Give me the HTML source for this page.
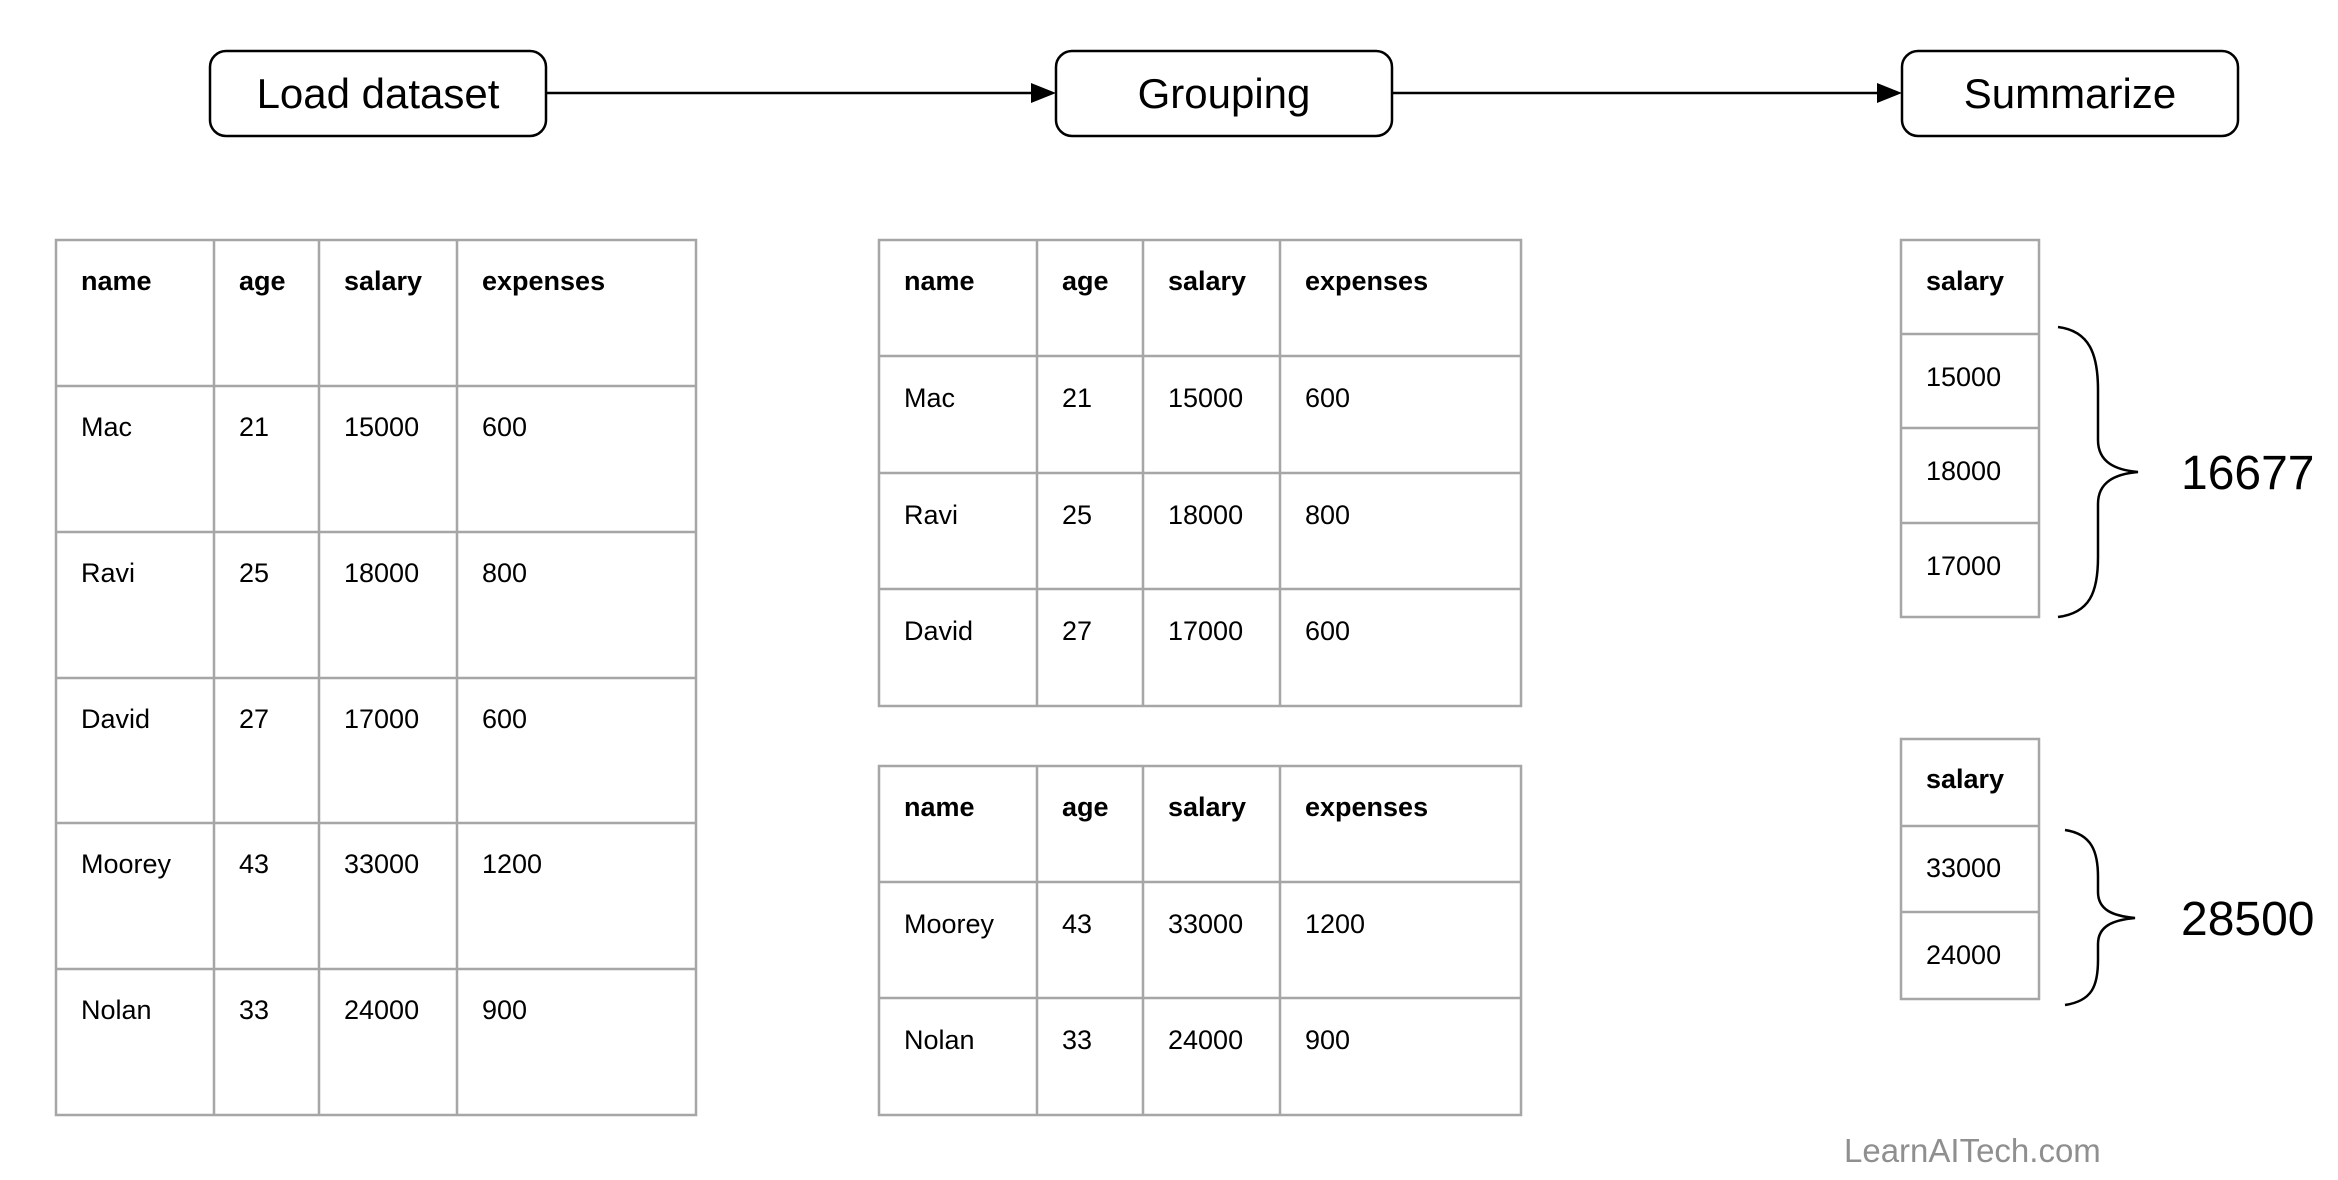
<!DOCTYPE html>
<html><head><meta charset="utf-8"><style>
html,body{margin:0;padding:0;background:#fff;}
svg{display:block;}
text{font-family:"Liberation Sans",Arial,sans-serif;fill:#000;}
.h{font-weight:bold;font-size:27px;}
.c{font-size:27px;}
.g{stroke:#a6a6a6;stroke-width:2.5;fill:none;}
</style></head><body>
<svg width="2338" height="1180" viewBox="0 0 2338 1180" xmlns="http://www.w3.org/2000/svg">
<rect x="210" y="51" width="336" height="85" rx="16" fill="#fff" stroke="#000" stroke-width="2.5"/>
<text x="378" y="108" font-size="42" text-anchor="middle">Load dataset</text>
<rect x="1056" y="51" width="336" height="85" rx="16" fill="#fff" stroke="#000" stroke-width="2.5"/>
<text x="1224" y="108" font-size="42" text-anchor="middle">Grouping</text>
<rect x="1902" y="51" width="336" height="85" rx="16" fill="#fff" stroke="#000" stroke-width="2.5"/>
<text x="2070" y="108" font-size="42" text-anchor="middle">Summarize</text>
<line x1="546" y1="93" x2="1042" y2="93" stroke="#000" stroke-width="2.5"/>
<polygon points="1056,93 1031,83 1031,103" fill="#000"/>
<line x1="1392" y1="93" x2="1888" y2="93" stroke="#000" stroke-width="2.5"/>
<polygon points="1902,93 1877,83 1877,103" fill="#000"/>

<!-- table 1 -->
<rect class="g" x="56" y="240" width="640" height="875"/>
<line class="g" x1="214" y1="240" x2="214" y2="1115"/>
<line class="g" x1="319" y1="240" x2="319" y2="1115"/>
<line class="g" x1="457" y1="240" x2="457" y2="1115"/>
<line class="g" x1="56" y1="386" x2="696" y2="386"/>
<line class="g" x1="56" y1="532" x2="696" y2="532"/>
<line class="g" x1="56" y1="678" x2="696" y2="678"/>
<line class="g" x1="56" y1="823" x2="696" y2="823"/>
<line class="g" x1="56" y1="969" x2="696" y2="969"/>
<g class="h"><text x="81" y="290">name</text><text x="239" y="290">age</text><text x="344" y="290">salary</text><text x="482" y="290">expenses</text></g>
<g class="c">
<text x="81" y="436">Mac</text><text x="239" y="436">21</text><text x="344" y="436">15000</text><text x="482" y="436">600</text>
<text x="81" y="582">Ravi</text><text x="239" y="582">25</text><text x="344" y="582">18000</text><text x="482" y="582">800</text>
<text x="81" y="728">David</text><text x="239" y="728">27</text><text x="344" y="728">17000</text><text x="482" y="728">600</text>
<text x="81" y="873">Moorey</text><text x="239" y="873">43</text><text x="344" y="873">33000</text><text x="482" y="873">1200</text>
<text x="81" y="1019">Nolan</text><text x="239" y="1019">33</text><text x="344" y="1019">24000</text><text x="482" y="1019">900</text>
</g>

<!-- table 2 -->
<rect class="g" x="879" y="240" width="642" height="466"/>
<line class="g" x1="1037" y1="240" x2="1037" y2="706"/>
<line class="g" x1="1143" y1="240" x2="1143" y2="706"/>
<line class="g" x1="1280" y1="240" x2="1280" y2="706"/>
<line class="g" x1="879" y1="356" x2="1521" y2="356"/>
<line class="g" x1="879" y1="473" x2="1521" y2="473"/>
<line class="g" x1="879" y1="589" x2="1521" y2="589"/>
<g class="h"><text x="904" y="290">name</text><text x="1062" y="290">age</text><text x="1168" y="290">salary</text><text x="1305" y="290">expenses</text></g>
<g class="c">
<text x="904" y="407">Mac</text><text x="1062" y="407">21</text><text x="1168" y="407">15000</text><text x="1305" y="407">600</text>
<text x="904" y="524">Ravi</text><text x="1062" y="524">25</text><text x="1168" y="524">18000</text><text x="1305" y="524">800</text>
<text x="904" y="640">David</text><text x="1062" y="640">27</text><text x="1168" y="640">17000</text><text x="1305" y="640">600</text>
</g>

<!-- table 3 -->
<rect class="g" x="879" y="766" width="642" height="349"/>
<line class="g" x1="1037" y1="766" x2="1037" y2="1115"/>
<line class="g" x1="1143" y1="766" x2="1143" y2="1115"/>
<line class="g" x1="1280" y1="766" x2="1280" y2="1115"/>
<line class="g" x1="879" y1="882" x2="1521" y2="882"/>
<line class="g" x1="879" y1="998" x2="1521" y2="998"/>
<g class="h"><text x="904" y="816">name</text><text x="1062" y="816">age</text><text x="1168" y="816">salary</text><text x="1305" y="816">expenses</text></g>
<g class="c">
<text x="904" y="933">Moorey</text><text x="1062" y="933">43</text><text x="1168" y="933">33000</text><text x="1305" y="933">1200</text>
<text x="904" y="1049">Nolan</text><text x="1062" y="1049">33</text><text x="1168" y="1049">24000</text><text x="1305" y="1049">900</text>
</g>

<!-- summary 1 -->
<rect class="g" x="1901" y="240" width="138" height="377"/>
<line class="g" x1="1901" y1="334" x2="2039" y2="334"/>
<line class="g" x1="1901" y1="428" x2="2039" y2="428"/>
<line class="g" x1="1901" y1="523" x2="2039" y2="523"/>
<text class="h" x="1926" y="290">salary</text>
<g class="c"><text x="1926" y="386">15000</text><text x="1926" y="480">18000</text><text x="1926" y="575">17000</text></g>
<path d="M2058,327 C2090,331 2098,355 2098,390 L2098,440 C2098,462 2115,470 2138,472 C2115,474 2098,482 2098,504 L2098,557 C2098,592 2090,613 2058,617" fill="none" stroke="#000" stroke-width="2.5"/>
<text x="2181" y="489" font-size="48">16677</text>

<!-- summary 2 -->
<rect class="g" x="1901" y="739" width="138" height="260"/>
<line class="g" x1="1901" y1="826" x2="2039" y2="826"/>
<line class="g" x1="1901" y1="912" x2="2039" y2="912"/>
<text class="h" x="1926" y="788">salary</text>
<g class="c"><text x="1926" y="877">33000</text><text x="1926" y="964">24000</text></g>
<path d="M2065,830 C2092,834 2098,852 2098,877 L2098,892 C2098,910 2113,916 2135,918 C2113,920 2098,926 2098,944 L2098,960 C2098,986 2092,1001 2065,1005" fill="none" stroke="#000" stroke-width="2.5"/>
<text x="2181" y="935" font-size="48">28500</text>

<text x="1844" y="1162" font-size="33" style="fill:#8f8f8f">LearnAITech.com</text>
</svg>
</body></html>
